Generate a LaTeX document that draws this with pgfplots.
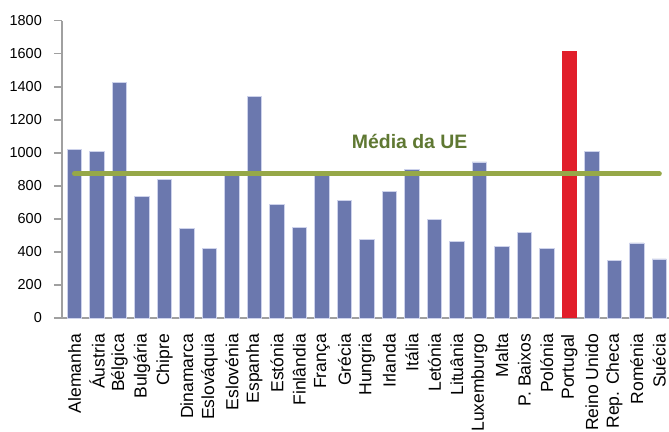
\documentclass[border=0pt]{standalone}
\usepackage{pgfplots}
\pgfplotsset{compat=1.18}
\usepackage{fontspec}
\setmainfont{Liberation Sans}
\definecolor{barblue}{RGB}{107,120,174}
\definecolor{baredge}{RGB}{205,210,235}
\definecolor{ptred}{RGB}{225,30,42}
\definecolor{euline}{RGB}{150,168,72}
\definecolor{eutext}{RGB}{95,120,50}
\definecolor{axgrey}{RGB}{160,160,160}
\begin{document}
\begin{tikzpicture}
\begin{axis}[
  at={(0,0)}, anchor=south west,
  scale only axis,
  width=607bp, height=297.3bp,
  xmin=-0.556, xmax=26.43,
  ymin=0, ymax=1800,
  axis lines*=left,
  axis line style={axgrey, line width=2bp},
  ytick={0,200,...,1800},
  xtick={0,...,26},
  xticklabels={Alemanha,Áustria,Bélgica,Bulgária,Chipre,Dinamarca,Eslováquia,Eslovénia,Espanha,Estónia,Finlândia,França,Grécia,Hungria,Irlanda,Itália,Letónia,Lituânia,Luxemburgo,Malta,P. Baixos,Polónia,Portugal,Reino Unido,Rep. Checa,Roménia,Suécia},
  x tick style={draw=none},
  y tick style={axgrey, line width=1.5bp},
  tick align=outside,
  major tick length=8bp,
  /pgf/number format/assume math mode=true,
  /pgf/number format/1000 sep={},
  yticklabel style={font=\fontsize{14.5}{14.5}\selectfont, anchor=east, inner sep=0pt, xshift=-12bp},
  xticklabel style={font=\fontsize{17.6}{17.6}\selectfont, rotate=90, anchor=east, inner sep=0pt, xshift=-8bp},
  ybar, bar width=14.3bp, bar shift=0pt,
  clip=false,
]
\addplot[fill=barblue, draw=baredge, line width=0.7bp] coordinates {
(0,1020) (1,1010) (2,1425) (3,735) (4,840) (5,540) (6,420) (7,865) (8,1340)
(9,690) (10,550) (11,865) (12,710) (13,475) (14,765) (15,900) (16,595)
(17,465) (18,945) (19,432) (20,520) (21,422) (23,1010) (24,350)
(25,455) (26,358)};
\addplot[fill=ptred, draw=none] coordinates {(22,1617)};
\addplot[sharp plot, euline, line width=5bp, line cap=round] coordinates {(0,873) (26,873)};
\node[font=\fontsize{19.5}{19.5}\selectfont\bfseries, text=eutext] at (axis cs:14.9,1066) {Média da UE};
\end{axis}
\pgfresetboundingbox
\useasboundingbox (-62bp,-114bp) rectangle (607bp,318bp);
\end{tikzpicture}
\end{document}
